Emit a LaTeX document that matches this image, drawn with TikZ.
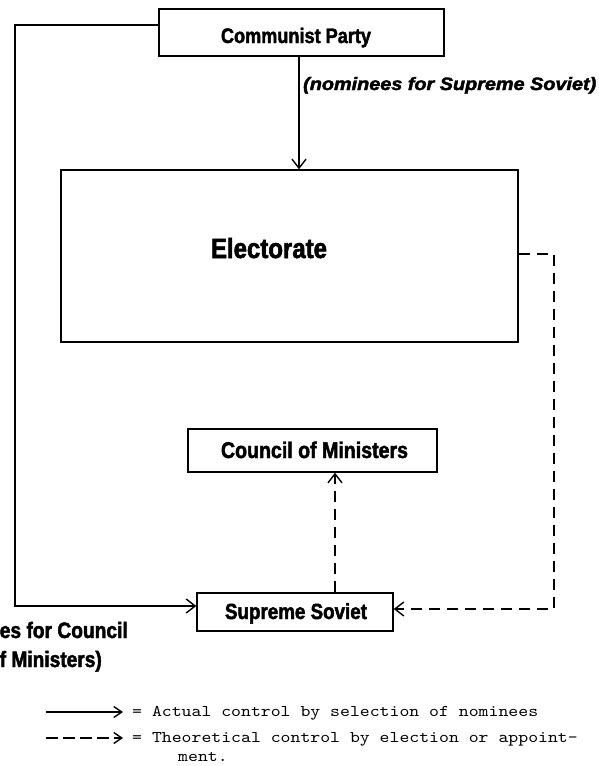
\documentclass[tikz,border=0pt]{standalone}
\usepackage{fontspec}
\usepackage{graphicx}
\newfontfamily\lab{Liberation Sans}[FakeStretch=0.86,FakeBold=2]
\newfontfamily\tw{lmmono10-regular}[Extension=.otf,FakeStretch=1.15]
\usetikzlibrary{arrows.meta}
\tikzset{
  box/.style={draw, line width=1.4pt, inner sep=0pt},
  lbl/.style={inner sep=0pt, anchor=base, font=\lab\bfseries},
  act/.style={line width=1.4pt, -{Straight Barb[length=9pt,width=14pt,line width=1.4pt]}},
  theo/.style={act, dash pattern=on 11pt off 7pt},
  leg/.style={inner sep=0pt, anchor=base west, font=\tw\fontsize{16.4}{18}\selectfont},
}
\begin{document}
\begin{tikzpicture}[x=1pt,y=-1pt]
\useasboundingbox (0,0) rectangle (598,766);
\fill[white] (0,0) rectangle (598,766);
% boxes
\node[box, minimum width=285pt, minimum height=47pt] (cp) at (301.5,32.5) {};
\node[box, minimum width=457pt, minimum height=172pt] (el) at (289.5,256) {};
\node[box, minimum width=249pt, minimum height=43pt] (com) at (312.5,450.5) {};
\node[box, minimum width=196pt, minimum height=38pt] (ss) at (295,612) {};
% box texts
\node[lbl] (cpt) at (296,43) {\resizebox{150pt}{!}{Communist Party}};
\node[lbl] (elt) at (269,258) {\resizebox{116pt}{!}{Electorate}};
\node[lbl] (comt) at (314.5,458) {\resizebox{187pt}{!}{Council of Ministers}};
\node[lbl] (sst) at (296,619) {\resizebox{142pt}{!}{Supreme Soviet}};
% connector labels
\node[lbl, anchor=base west] (nom1) at (303,90) {\resizebox{293pt}{13pt}{\itshape (nominees for Supreme Soviet)}};
\node[lbl, anchor=base east] (nom2) at (128,638) {\resizebox{128pt}{!}{es for Council}};
\node[lbl, anchor=base east] (nom3) at (102,667) {\resizebox{102pt}{!}{f Ministers)}};
% coordinates
\coordinate (a1) at (15,25);
\coordinate (a2) at (15,606);
\coordinate (d) at (299,0);
\coordinate (c) at (335,0);
\coordinate (b1) at (554,254);
\coordinate (b2) at (554,609);
% connectors
\draw[act] (cp.west |- a1) -- (a1) -- (a2) -- (a2 -| ss.west);
\draw[act] (cp.south -| d) -- (el.north -| d);
\draw[theo] (ss.north -| c) -- (com.south -| c);
\draw[theo] (el.east |- b1) -- (b1) -- (b2) -- (b2 -| ss.east);
% legend
\coordinate (l1a) at (46,712);
\coordinate (l1b) at (123,712);
\coordinate (l2a) at (46,738);
\coordinate (l2b) at (123,738);
\draw[act, -{Straight Barb[length=8pt,width=11pt,line width=1.4pt]}] (l1a) -- (l1b);
\draw[theo, dash pattern=on 12pt off 5pt, -{Straight Barb[length=8pt,width=11pt,line width=1.4pt]}] (l2a) -- (l2b);
\node[leg] (t1) at (132,716) {= Actual control by selection of nominees};
\node[leg] (t2) at (132,742) {= Theoretical control by election or appoint-};
\node[leg] (t3) at (178,761) {ment.};
\end{tikzpicture}
\end{document}
